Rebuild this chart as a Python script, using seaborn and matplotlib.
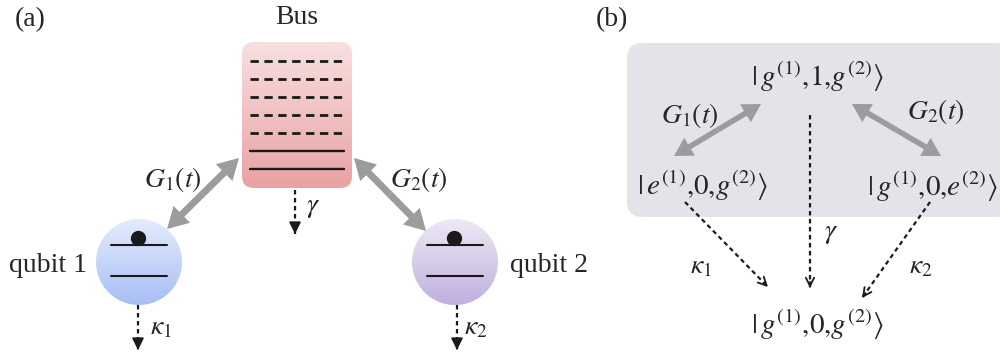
import numpy as np
import matplotlib.pyplot as plt
import seaborn as sns
from matplotlib.patches import FancyBboxPatch, Circle, FancyArrowPatch

sns.set_theme(style='white')
plt.rcParams['font.family'] = ['Liberation Serif', 'DejaVu Serif']
plt.rcParams['mathtext.fontset'] = 'stix'

# text content of the schematic
panel_tags = ['(a)', '(b)']
bus_title = 'Bus'
qubit_names = ['qubit 1', 'qubit 2']
coupling_labels = [r'$G_1(t)$', r'$G_2(t)$']
decay_labels = [r'$\kappa_1$', r'$\gamma$', r'$\kappa_2$']
bus_levels = ['dashed'] * 5 + ['solid'] * 2
ket_labels = [r'$|\,g^{(1)}{,}1{,}g^{(2)}\rangle$',
              r'$|\,e^{(1)}{,}0{,}g^{(2)}\rangle$',
              r'$|\,g^{(1)}{,}0{,}e^{(2)}\rangle$',
              r'$|\,g^{(1)}{,}0{,}g^{(2)}\rangle$']

# gradient colours (top -> bottom)
bus_colors = ['#f8e0e0', '#eaa1a3']
qubit_colors = [['#e4ebfc', '#a8bef4'], ['#eee8f5', '#c0b0de']]
box_color = '#e3e3e9'
arrow_grey = '#9c9c9c'


def gradient_fill(ax, patch, colors, x0, x1, y0, y1):
    patch.set_facecolor('none')
    patch.set_edgecolor('none')
    ax.add_patch(patch)
    grad = np.array(sns.blend_palette(colors, n_colors=128))[:, None, :]
    im = ax.imshow(grad, extent=(x0, x1, y1, y0), aspect='auto',
                   interpolation='bicubic', zorder=1)
    im.set_clip_path(patch)


def double_arrow(ax, p, q, hl, hw, tw):
    mid = ((p[0] + q[0]) / 2, (p[1] + q[1]) / 2)
    style = f'simple,head_length={hl},head_width={hw},tail_width={tw}'
    for end in (p, q):
        ax.add_patch(FancyArrowPatch(mid, end, arrowstyle=style, color=arrow_grey,
                                     lw=0, shrinkA=0, shrinkB=0, zorder=3))


def dashed_arrow(ax, p, q, head):
    ax.plot([p[0], q[0]], [p[1], q[1]], color='k', lw=1.6,
            ls=(0, (2, 1.6)), zorder=3)
    d = np.array(q, float) - np.array(p, float)
    d /= np.hypot(*d)
    start = np.array(q) - d * 6
    ax.annotate('', xy=q, xytext=start,
                arrowprops=dict(arrowstyle=head, color='k', lw=1.3,
                                mutation_scale=10, shrinkA=0, shrinkB=0))


fig = plt.figure(figsize=(10, 3.56), dpi=100)
ax = fig.add_axes([0, 0, 1, 1])
fs = 20

# ---------------- panel (a) ----------------
ax.text(30, 20, panel_tags[0], fontsize=fs, ha='center', va='center')
ax.text(297, 18, bus_title, fontsize=fs, ha='center', va='center')

bus = FancyBboxPatch((242, 42), 110, 146, boxstyle='round,pad=0,rounding_size=12')
gradient_fill(ax, bus, bus_colors, 242, 352, 42, 188)
for i, style in enumerate(bus_levels):
    y = 61 + i * 18
    if style == 'dashed':
        ax.plot([250, 344], [y, y], color='k', lw=2, ls=(0, (3, 2)), zorder=2)
    else:
        ax.plot([250, 344], [y, y], color='k', lw=1.7, zorder=2)

qubit_x = [139, 455]
for k, cx in enumerate(qubit_x):
    c = Circle((cx, 262), 43)
    gradient_fill(ax, c, qubit_colors[k], cx - 43, cx + 43, 219, 305)
    ax.plot([cx - 28, cx + 28], [245, 245], color='k', lw=1.5, zorder=2)
    ax.plot([cx - 28, cx + 28], [276, 276], color='k', lw=1.5, zorder=2)
    ax.plot(cx - 1, 238, 'o', color='k', ms=10, zorder=2)

ax.text(87, 265, qubit_names[0], fontsize=fs, ha='right', va='center')
ax.text(510, 265, qubit_names[1], fontsize=fs, ha='left', va='center')

double_arrow(ax, (167, 229), (239, 158), 15, 17, 5)
double_arrow(ax, (354, 158), (426, 231), 15, 17, 5)
ax.text(173, 180, coupling_labels[0], fontsize=fs, ha='center', va='center')
ax.text(419, 180, coupling_labels[1], fontsize=fs, ha='center', va='center')

dashed_arrow(ax, (295, 190), (295, 234), '-|>,head_length=0.7,head_width=0.35')
dashed_arrow(ax, (138, 305), (138, 350), '-|>,head_length=0.7,head_width=0.35')
dashed_arrow(ax, (457, 305), (457, 350), '-|>,head_length=0.7,head_width=0.35')
ax.text(313, 208, decay_labels[1], fontsize=fs, ha='center', va='center')
ax.text(161, 328, decay_labels[0], fontsize=fs, ha='center', va='center')
ax.text(476, 328, decay_labels[2], fontsize=fs, ha='center', va='center')

# ---------------- panel (b) ----------------
ax.text(612, 20, panel_tags[1], fontsize=fs, ha='center', va='center')
box = FancyBboxPatch((627, 43), 385, 174, boxstyle='round,pad=0,rounding_size=16',
                     facecolor=box_color, edgecolor='none', zorder=1)
ax.add_patch(box)

ket_fs = 21
ax.text(817, 77, ket_labels[0], fontsize=ket_fs, ha='center', va='center', zorder=4)
ax.text(703, 186, ket_labels[1], fontsize=ket_fs, ha='center', va='center', zorder=4)
ax.text(998, 187, ket_labels[2], fontsize=ket_fs, ha='right', va='center', zorder=4)
ax.text(817, 325, ket_labels[3], fontsize=ket_fs, ha='center', va='center', zorder=4)

double_arrow(ax, (674, 156), (761, 104), 13, 15, 4)
double_arrow(ax, (852, 104), (941, 156), 13, 15, 4)
ax.text(690, 115, coupling_labels[0], fontsize=fs, ha='center', va='center')
ax.text(936, 112, coupling_labels[1], fontsize=fs, ha='center', va='center')

dashed_arrow(ax, (810, 115), (810, 288), '->,head_length=0.6,head_width=0.3')
dashed_arrow(ax, (685, 202), (768, 287), '->,head_length=0.6,head_width=0.3')
dashed_arrow(ax, (930, 202), (862, 298), '->,head_length=0.6,head_width=0.3')
ax.text(831, 233, decay_labels[1], fontsize=fs, ha='center', va='center')
ax.text(701, 267, decay_labels[0], fontsize=fs, ha='center', va='center')
ax.text(921, 267, decay_labels[2], fontsize=fs, ha='center', va='center')

ax.set_xlim(0, 1000)
ax.set_ylim(356, 0)
ax.set_aspect('auto')
ax.axis('off')
fig.savefig('out.png', dpi=100, facecolor='white')
